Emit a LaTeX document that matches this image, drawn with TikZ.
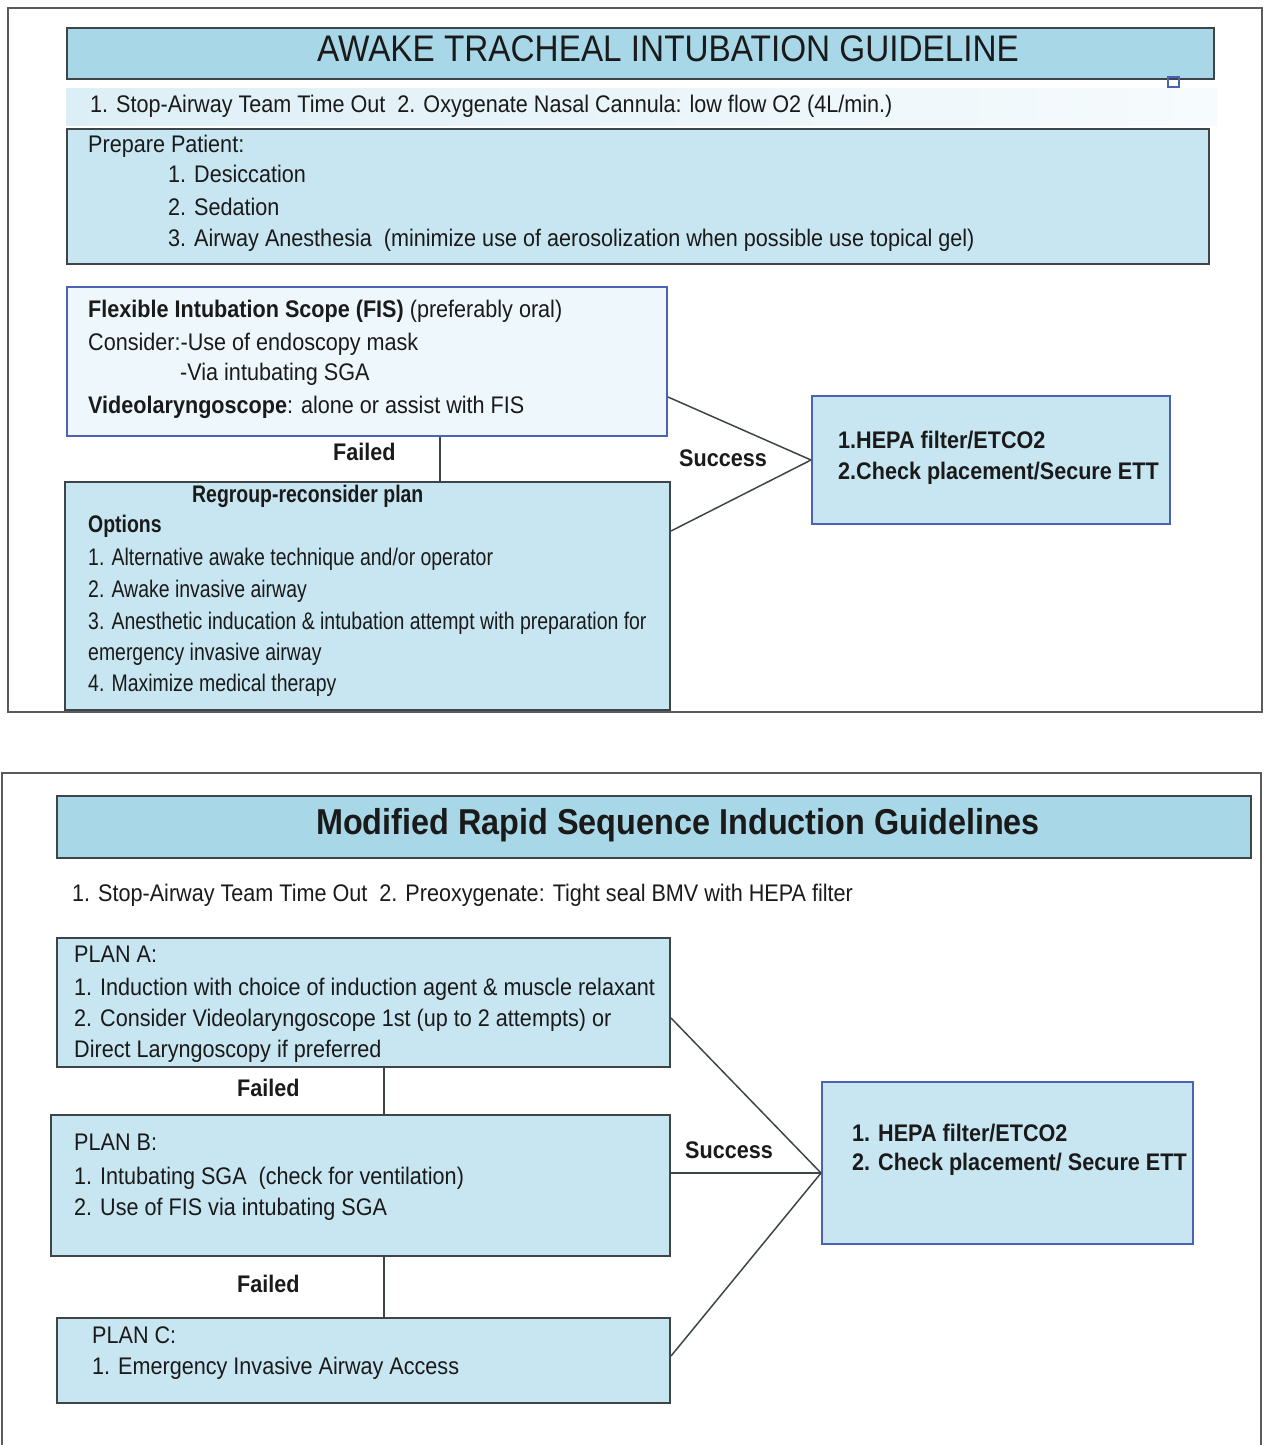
\documentclass[tikz,border=0pt]{standalone}
\usepackage{fontspec}
\setmainfont{Liberation Sans}[FakeStretch=0.9]
\newfontfamily\narrowfont{Liberation Sans}[FakeStretch=0.81]
\usetikzlibrary{positioning,calc}
\definecolor{titleblue}{HTML}{A8D8E8}
\definecolor{boxblue}{HTML}{C8E6F1}
\definecolor{paleblue}{HTML}{EEF7FB}
\definecolor{stripblue}{HTML}{DDEFF6}
\definecolor{edgegray}{HTML}{3E4549}
\definecolor{edgeblue}{HTML}{4B62B5}
\definecolor{framegray}{HTML}{5A5A5A}
\definecolor{ink}{HTML}{1A1A1A}
\tikzset{
  box/.style={draw=edgegray,line width=2pt,fill=boxblue,anchor=north west,inner sep=0pt},
  bluebox/.style={box,draw=edgeblue},
  txt/.style={anchor=base west,inner sep=0pt,text=ink,font=\fontsize{24}{30}\selectfont},
  boldtxt/.style={txt,font=\fontsize{24}{30}\selectfont\bfseries},
  narrowtxt/.style={txt,font=\narrowfont\fontsize{24}{30}\selectfont},
  headtxt/.style={anchor=base,inner sep=0pt,text=ink,font=\fontsize{37}{40}\selectfont},
  link/.style={draw=edgegray,line width=1.5pt},
}

\begin{document}
\begin{tikzpicture}[x=1pt,y=-1pt]
  \useasboundingbox (0,0) rectangle (1264,1445);

  % awake tracheal intubation
  \draw[framegray,line width=2pt] (8,8) rectangle (1262,712);
  \node[box,fill=titleblue,minimum width=1147pt,minimum height=51pt] (atibar) at (66,27) {};
  \node[headtxt] (atihead) at (668,62) {AWAKE TRACHEAL INTUBATION GUIDELINE};
  \node[anchor=north west,inner sep=0pt,minimum width=1151pt,minimum height=37pt,
        left color=stripblue,right color=stripblue!25] (atistrip) at (66,88) {};
  \draw[edgeblue,line width=1.2pt] (1168,77) rectangle (1179,87);
  \node[txt] (atistep) at (90,112) {1. Stop-Airway Team Time Out~~2. Oxygenate Nasal Cannula: low flow O2 (4L/min.)};

  \node[box,minimum width=1142pt,minimum height=135pt] (prep) at (66,128) {};
  \node[txt] (prephead) at (88,152) {Prepare Patient:};
  \node[txt] (prepone) at (168,182) {1. Desiccation};
  \node[txt] (preptwo) at (168,215) {2. Sedation};
  \node[txt] (prepthree) at (168,246) {3. Airway Anesthesia~~(minimize use of aerosolization when possible use topical gel)};

  \node[bluebox,fill=paleblue,minimum width=600pt,minimum height=149pt] (fis) at (66,286) {};
  \node[txt] (fisone) at (88,317) {\textbf{Flexible Intubation Scope (FIS)} (preferably oral)};
  \node[txt] (fistwo) at (88,350) {Consider:-Use of endoscopy mask};
  \node[txt] (fisthree) at (180,380) {-Via intubating SGA};
  \node[txt] (fisfour) at (88,413) {\textbf{Videolaryngoscope}: alone or assist with FIS};

  \node[box,minimum width=605pt,minimum height=228pt] (regroup) at (64,481) {};
  \node[narrowtxt,font=\narrowfont\fontsize{24}{30}\selectfont\bfseries] (reghead) at (192,502) {Regroup-reconsider plan};
  \node[narrowtxt,font=\narrowfont\fontsize{24}{30}\selectfont\bfseries] (regopt) at (88,532) {Options};
  \node[narrowtxt] (regone) at (88,565) {1. Alternative awake technique and/or operator};
  \node[narrowtxt] (regtwo) at (88,597) {2. Awake invasive airway};
  \node[narrowtxt] (regthree) at (88,629) {3. Anesthetic inducation \& intubation attempt with preparation for};
  \node[narrowtxt] (regthreeb) at (88,660) {emergency invasive airway};
  \node[narrowtxt] (regfour) at (88,691) {4. Maximize medical therapy};

  \node[bluebox,minimum width=358pt,minimum height=128pt] (hepaone) at (811,395) {};
  \node[boldtxt] (hepaonea) at (838,448) {1.HEPA filter/ETCO2};
  \node[boldtxt] (hepaoneb) at (838,479) {2.Check placement/Secure ETT};

  \coordinate (failone) at (440,0);
  \draw[link] (fis.south -| failone) -- (regroup.north -| failone);
  \node[boldtxt] (failonet) at (333,460) {Failed};
  \draw[link] ([yshift=-35.5pt]fis.east) -- (hepaone.west);
  \draw[link] ([yshift=65pt]regroup.east) -- (hepaone.west);
  \node[boldtxt] (succone) at (679,466) {Success};

  % modified rapid sequence induction
  \draw[framegray,line width=2pt] (2,1445) -- (2,773) -- (1261,773) -- (1261,1445);
  \node[box,fill=titleblue,minimum width=1194pt,minimum height=62pt] (rsibar) at (56,795) {};
  \node[headtxt,font=\fontsize{36}{40}\selectfont\bfseries] (rsihead) at (678,834) {Modified Rapid Sequence Induction Guidelines};
  \node[txt] (rsistep) at (72,901) {1. Stop-Airway Team Time Out~~2. Preoxygenate: Tight seal BMV with HEPA filter};

  \node[box,minimum width=613pt,minimum height=129pt] (plana) at (56,937) {};
  \node[txt] (planahead) at (74,962) {PLAN A:};
  \node[txt] (planaone) at (74,995) {1. Induction with choice of induction agent \& muscle relaxant};
  \node[txt] (planatwo) at (74,1026) {2. Consider Videolaryngoscope 1st (up to 2 attempts) or};
  \node[txt] (planatwob) at (74,1057) {Direct Laryngoscopy if preferred};

  \node[box,minimum width=619pt,minimum height=141pt] (planb) at (50,1114) {};
  \node[txt] (planbhead) at (74,1150) {PLAN B:};
  \node[txt] (planbone) at (74,1184) {1. Intubating SGA~~(check for ventilation)};
  \node[txt] (planbtwo) at (74,1215) {2. Use of FIS via intubating SGA};

  \node[box,minimum width=613pt,minimum height=85pt] (planc) at (56,1317) {};
  \node[txt] (planchead) at (92,1343) {PLAN C:};
  \node[txt] (plancone) at (92,1374) {1. Emergency Invasive Airway Access};

  \node[bluebox,minimum width=371pt,minimum height=162pt] (hepatwo) at (821,1081) {};
  \node[boldtxt] (hepatwoa) at (852,1141) {1. HEPA filter/ETCO2};
  \node[boldtxt] (hepatwob) at (852,1170) {2. Check placement/ Secure ETT};

  \coordinate (failtwo) at (384,0);
  \draw[link] (plana.south -| failtwo) -- (planb.north -| failtwo);
  \draw[link] (planb.south -| failtwo) -- (planc.north -| failtwo);
  \node[boldtxt] (failtwot) at (237,1096) {Failed};
  \node[boldtxt] (failthreet) at (237,1292) {Failed};
  \coordinate (meet) at ([yshift=-10pt]hepatwo.west);
  \draw[link] ([yshift=-15.5pt]plana.east) -- (meet);
  \draw[link] ([yshift=12.5pt]planb.east) -- (meet);
  \draw[link] ([yshift=4.5pt]planc.east) -- (meet);
  \node[boldtxt] (succtwo) at (685,1158) {Success};
\end{tikzpicture}
\end{document}
